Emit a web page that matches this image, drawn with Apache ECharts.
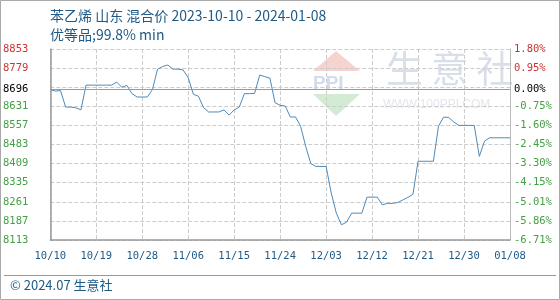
<!DOCTYPE html>
<html><head><meta charset="utf-8">
<script src="https://cdn.jsdelivr.net/npm/echarts@6/dist/echarts.min.js"></script>
<style>html,body{margin:0;padding:0;background:#fff}#c{width:560px;height:300px}</style>
</head><body><div id="c"></div>
<script>
const categories = ['10/10','10/11','10/12','10/13','10/14','10/15','10/16','10/17','10/18','10/19','10/20','10/21','10/22','10/23','10/24','10/25','10/26','10/27','10/28','10/29','10/30','10/31',
'11/01','11/02','11/03','11/04','11/05','11/06','11/07','11/08','11/09','11/10','11/11','11/12','11/13','11/14','11/15','11/16','11/17','11/18','11/19','11/20','11/21','11/22','11/23','11/24','11/25','11/26','11/27','11/28','11/29','11/30',
'12/01','12/02','12/03','12/04','12/05','12/06','12/07','12/08','12/09','12/10','12/11','12/12','12/13','12/14','12/15','12/16','12/17','12/18','12/19','12/20','12/21','12/22','12/23','12/24','12/25','12/26','12/27','12/28','12/29','12/30','12/31',
'01/01','01/02','01/03','01/04','01/05','01/06','01/07','01/08'];
const prices = [8696,8690,8692,8628,8628,8625,8617,8713,8713,8713,8713,8713,8713,8725,8705,8712,8680,8667,8667,8667,8696,8775,
8785,8791,8775,8775,8772,8742,8678,8670,8626,8609,8609,8609,8617,8597,8617,8628,8680,8680,8681,8752,8746,8740,8645,8635,8632,8589,8590,8554,8476,8409,
8398,8398,8398,8295,8217,8172,8182,8217,8217,8217,8279,8279,8279,8249,8255,8255,8258,8268,8278,8290,8418,8418,8418,8418,8554,8589,8588,8570,8557,8557,8557,
8557,8437,8496,8509,8509,8509,8509,8509];
const baseValue = 8696;
const leftTickLabels = [8853,8779,8696,8631,8557,8483,8409,8335,8261,8187,8113];
const rightTickLabels = ['1.80%','0.95%','0.00%','-0.75%','-1.60%','-2.45%','-3.30%','-4.15%','-5.01%','-5.86%','-6.71%'];
const gridValues = [8113,8187,8261,8335,8409,8483,8557,8631,8705,8779,8853];
const titleText = '苯乙烯 山东 混合价 2023-10-10 - 2024-01-08';
const subtitleText = '优等品;99.8% min';
const footerText = '© 2024.07 生意社';

const RED = '#cc3333', GREEN = '#44a044', BLUE = '#1f5a86';
function labelColor(v){ v = Number(v); return v > baseValue ? RED : (v === baseValue ? '#000' : GREEN); }
const monoFont = '"DejaVu Sans Mono", monospace';
const chart = echarts.init(document.getElementById('c'));
chart.setOption({
  animation: false,
  backgroundColor: '#fff',
  title: {
    text: titleText, subtext: subtitleText, left: 45, top: 4, itemGap: 5,
    textStyle: {fontSize: 14, fontWeight: 'normal', color: BLUE, fontFamily: '"Noto Sans CJK SC"'},
    subtextStyle: {fontSize: 14, color: BLUE, fontFamily: '"Noto Sans CJK SC"'}
  },
  graphic: [
    {type: 'rect', shape: {x: 0.5, y: 0.5, width: 559, height: 299}, style: {fill: 'none', stroke: '#aaa', lineWidth: 1}, z: 100},
    {type: 'line', shape: {x1: 4, y1: 275.5, x2: 556, y2: 275.5}, style: {stroke: '#999', lineWidth: 1}},
    {type: 'text', left: 10, top: 279, style: {text: footerText, fontSize: 13, fill: BLUE, fontFamily: '"Noto Sans CJK SC"'}},
    {type: 'polygon', shape: {points: [[336,51],[360,71],[313,71]]}, style: {fill: '#f6d3cf'}, z: -10},
    {type: 'polygon', shape: {points: [[313,94],[360,94],[336,116]]}, style: {fill: '#d3ead3'}, z: -10},
    {type: 'text', left: 313, top: 74, style: {text: 'PPI', fontSize: 19, fontWeight: 'bold', fill: '#d3dced', fontFamily: 'Arial'}, z: -10},
    {type: 'text', left: 386, top: 50, style: {text: '生 意 社', fontSize: 37, fill: '#d9dfe8', fontFamily: '"Noto Sans CJK SC"'}, z: -10},
    {type: 'text', left: 383, top: 99, style: {text: 'WWW.100PPI.COM', fontSize: 12, fill: '#e2e6ec', fontFamily: 'Arial'}, z: -10}
  ],
  grid: {left: 50, right: 50, top: 49, bottom: 60},
  xAxis: {
    type: 'category', data: categories, boundaryGap: false,
    axisLine: {lineStyle: {color: '#999', width: 1.5}},
    axisTick: {show: false},
    axisLabel: {interval: 8, color: BLUE, fontSize: 10.5, fontFamily: monoFont, margin: 11},
    splitLine: {show: true, interval: 8, lineStyle: {color: '#ccc', type: 'dashed'}}
  },
  yAxis: [
    {
      type: 'value', min: 8113, max: 8853, position: 'left',
      axisLine: {show: true, lineStyle: {color: '#999', width: 1.5}},
      axisTick: {show: false, customValues: gridValues},
      axisLabel: {customValues: leftTickLabels, color: labelColor, fontSize: 10.5, fontFamily: monoFont, margin: 22,
        formatter: function(v){ return String(v); }},
      splitLine: {show: true, lineStyle: {color: '#ccc', type: 'dashed'}}
    },
    {
      type: 'value', min: 8113, max: 8853, position: 'right',
      axisLine: {show: true, lineStyle: {color: '#bbb', width: 1}},
      axisTick: {show: false, customValues: leftTickLabels},
      axisLabel: {customValues: leftTickLabels, align: 'left', margin: 4, fontSize: 10.5, fontFamily: monoFont,
        color: labelColor,
        formatter: function(v){ const i = leftTickLabels.indexOf(Number(v)); return i >= 0 ? rightTickLabels[i] : ''; }},
      splitLine: {show: false}
    }
  ],
  series: [{
    type: 'line', data: prices, yAxisIndex: 0, symbol: 'none', smooth: false,
    lineStyle: {color: '#4f8ab8', width: 1},
    markLine: {silent: true, symbol: 'none', label: {show: false},
      lineStyle: {color: '#999', type: 'solid', width: 1.2},
      data: [{yAxis: baseValue}]}
  }]
});
</script></body></html>
